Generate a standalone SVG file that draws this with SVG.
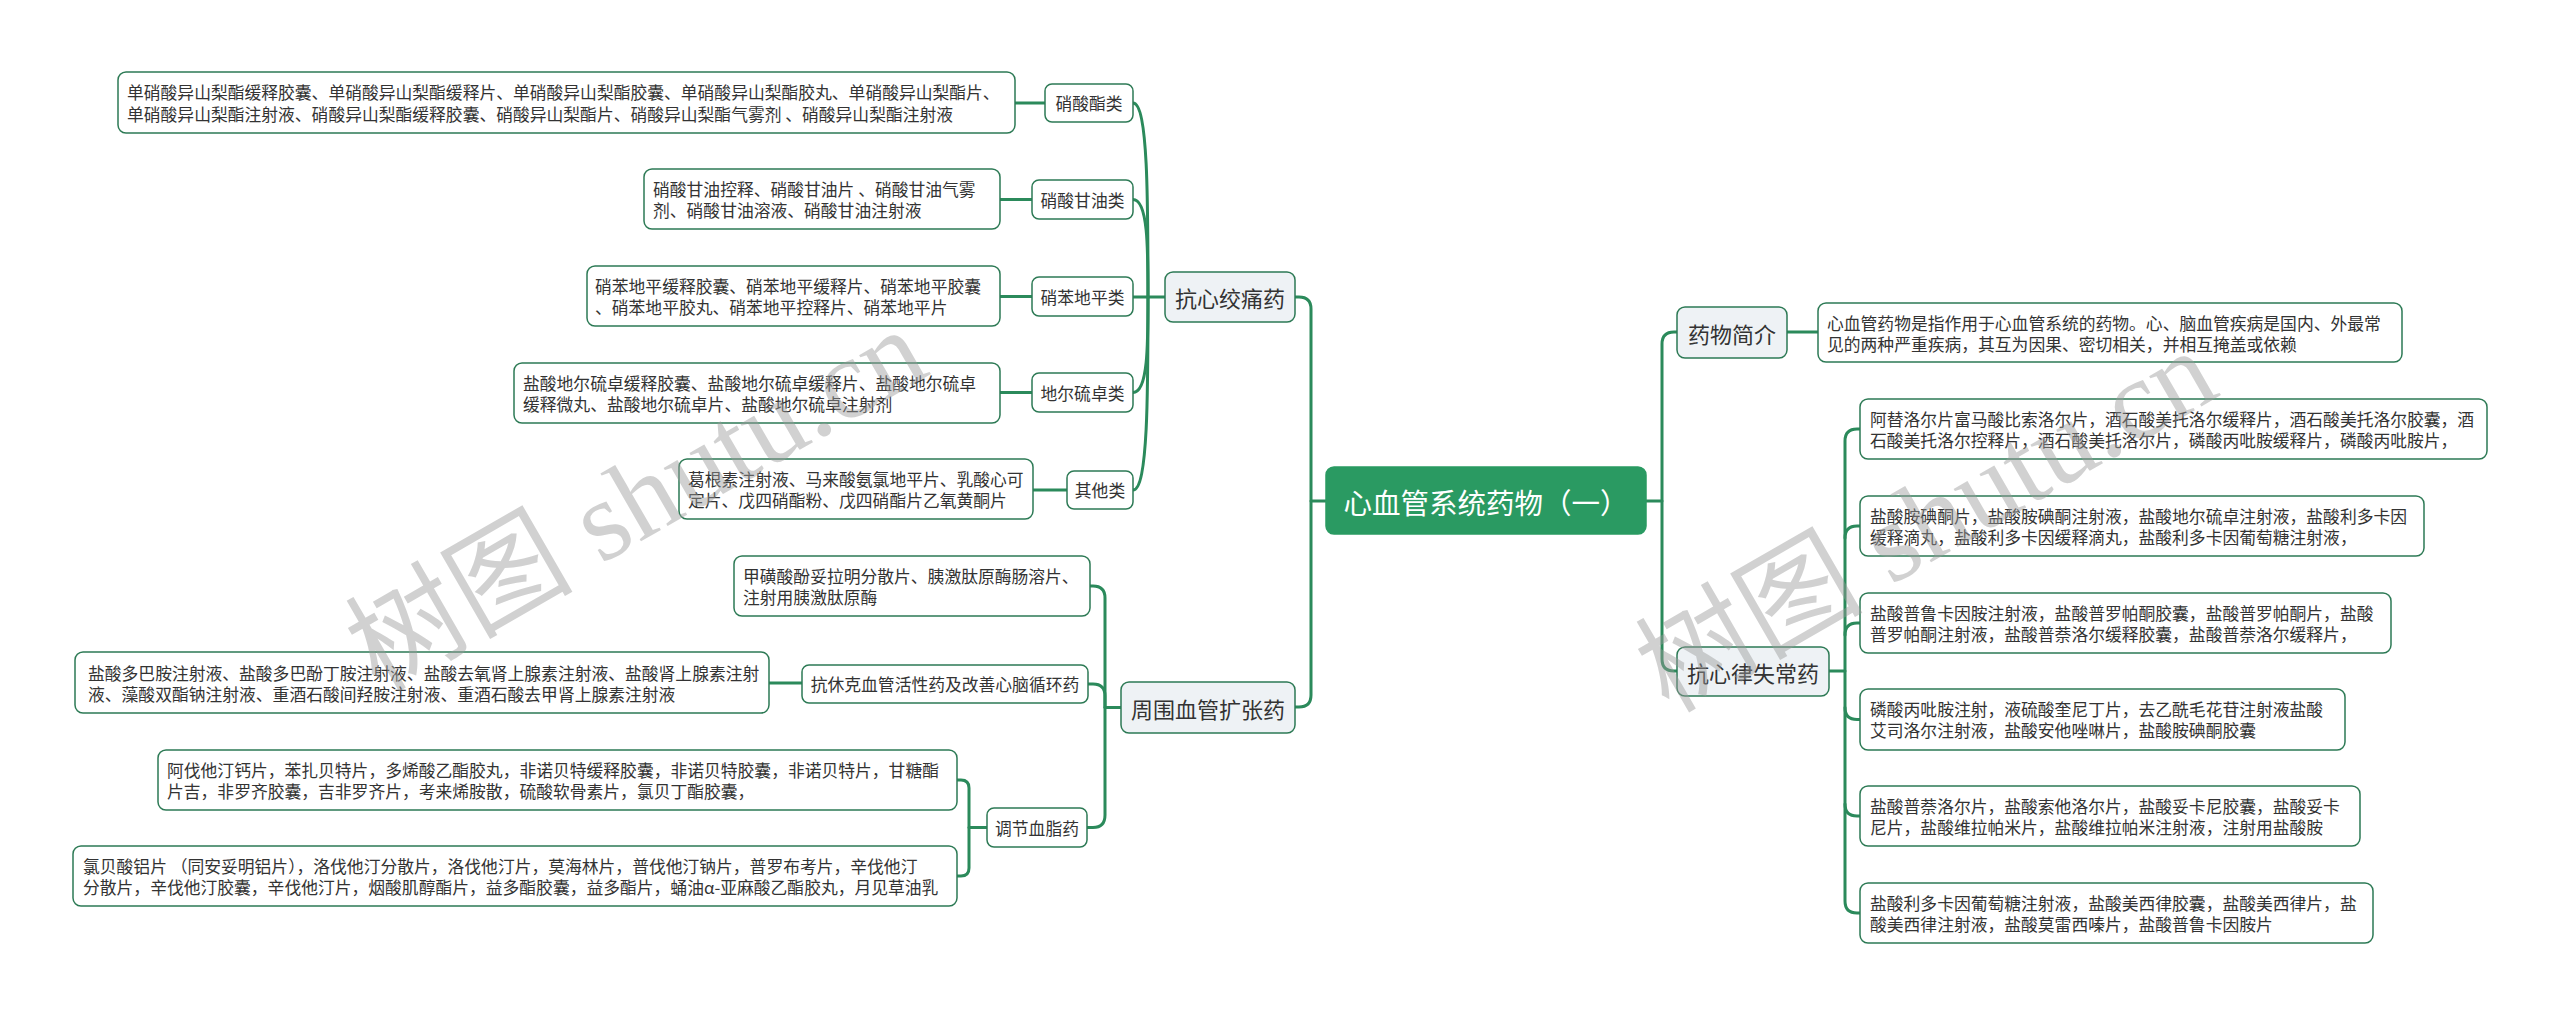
<svg xmlns="http://www.w3.org/2000/svg" width="2560" height="1016" viewBox="0 0 2560 1016">
<style>
.bg{fill:#ffffff}
.con{fill:none;stroke:#2b8a5b;stroke-width:3;stroke-linecap:round;stroke-linejoin:round}
.leaf rect{fill:#ffffff;stroke:#2d7a55;stroke-width:1.5}
.cat rect{fill:#ffffff;stroke:#2d7a55;stroke-width:1.5}
.l1 rect{fill:#eef2f5;stroke:#2d7a55;stroke-width:1.5}
.root rect{fill:#2a9a62;stroke:#2a9a62;stroke-width:1.5}
text{font-family:"Noto Sans CJK SC","Noto Sans CJK JP",sans-serif;dominant-baseline:central;fill:#333333}
.leaf text{font-size:16.8px}
.cat text{font-size:16.8px;text-anchor:middle}
.l1 text{font-size:22px;text-anchor:middle}
.root text{font-size:28.5px;text-anchor:middle;fill:#ffffff}
.wm{font-family:"Liberation Serif","Noto Sans CJK SC",serif;font-size:114px;fill:#9a9a9a;opacity:0.45;dominant-baseline:auto}
</style>
<rect class="bg" x="0" y="0" width="2560" height="1016"/>

<g id="connectors">
  <path class="con" d="M1326,501 H1311"/>
  <path class="con" d="M1295,297 H1299 Q1311,297 1311,309 V695 Q1311,707 1299,707 H1295"/>
  <path class="con" d="M1646,501 H1662"/>
  <path class="con" d="M1677,332 H1674 Q1662,332 1662,344 V659 Q1662,671 1674,671 H1677"/>
  <path class="con" d="M1133,103 C1148,103 1148,200 1148,297"/>
  <path class="con" d="M1133,199.5 C1148,199.5 1148,248 1148,297"/>
  <path class="con" d="M1133,297 H1165"/>
  <path class="con" d="M1133,392.5 C1148,392.5 1148,345 1148,297"/>
  <path class="con" d="M1133,490 C1148,490 1148,393 1148,297"/>
  <path class="con" d="M1015,103 H1045"/>
  <path class="con" d="M1000,199.5 H1032"/>
  <path class="con" d="M1000,296.5 H1032"/>
  <path class="con" d="M1000,392.5 H1032"/>
  <path class="con" d="M1033,490 H1067"/>
  <path class="con" d="M1090,586 H1093 Q1105,586 1105,598 V815 Q1105,827.5 1093,827.5 H1087"/>
  <path class="con" d="M1088,684 H1093 Q1105,684 1105,696 V707"/>
  <path class="con" d="M1105,707.5 H1121"/>
  <path class="con" d="M769,683 H802"/>
  <path class="con" d="M957,780 H961 Q969,780 969,788 V868 Q969,876 961,876 H957"/>
  <path class="con" d="M969,827.5 H987"/>
  <path class="con" d="M1786,332 H1818"/>
  <path class="con" d="M1829,671 H1845"/>
  <path class="con" d="M1860,429 H1857 Q1845,429 1845,441 V901 Q1845,913 1857,913 H1860"/>
  <path class="con" d="M1845,538 Q1845,526 1857,526 H1860"/>
  <path class="con" d="M1845,635 Q1845,623 1857,623 H1860"/>
  <path class="con" d="M1845,707.5 Q1845,719.5 1857,719.5 H1860"/>
  <path class="con" d="M1845,804 Q1845,816 1857,816 H1860"/>
</g>

<g id="root" class="root">
  <rect x="1326" y="467" width="320" height="67" rx="8"/>
  <text x="1486" y="501">心血管系统药物（一）</text>
</g>

<g id="n-angina" class="l1">
  <rect x="1165" y="272" width="130" height="50" rx="8"/>
  <text x="1230" y="297">抗心绞痛药</text>
</g>
<g id="n-vaso" class="l1">
  <rect x="1121" y="682" width="174" height="51" rx="8"/>
  <text x="1208" y="707.5">周围血管扩张药</text>
</g>
<g id="n-intro" class="l1">
  <rect x="1677" y="307" width="110" height="51" rx="8"/>
  <text x="1732" y="332.5">药物简介</text>
</g>
<g id="n-arrhythmia" class="l1">
  <rect x="1677" y="647" width="152" height="49" rx="8"/>
  <text x="1753" y="671.5">抗心律失常药</text>
</g>

<g id="c-nitrate" class="cat">
  <rect x="1045" y="84" width="88" height="38" rx="7"/>
  <text x="1089" y="103">硝酸酯类</text>
</g>
<g id="c-glycerin" class="cat">
  <rect x="1032" y="180" width="101" height="39" rx="7"/>
  <text x="1082.5" y="199.5">硝酸甘油类</text>
</g>
<g id="c-nifedipine" class="cat">
  <rect x="1032" y="277" width="101" height="39" rx="7"/>
  <text x="1082.5" y="296.5">硝苯地平类</text>
</g>
<g id="c-diltiazem" class="cat">
  <rect x="1032" y="373" width="101" height="39" rx="7"/>
  <text x="1082.5" y="392.5">地尔硫卓类</text>
</g>
<g id="c-other" class="cat">
  <rect x="1067" y="471" width="66" height="38" rx="7"/>
  <text x="1100" y="490">其他类</text>
</g>
<g id="c-shock" class="cat">
  <rect x="802" y="665" width="286" height="38" rx="7"/>
  <text x="945" y="684">抗休克血管活性药及改善心脑循环药</text>
</g>
<g id="c-lipid" class="cat">
  <rect x="987" y="808" width="100" height="39" rx="7"/>
  <text x="1037" y="827.5">调节血脂药</text>
</g>

<g id="leaf-nitrate" class="leaf">
  <rect x="118" y="72" width="897" height="61" rx="8"/>
  <text x="127"><tspan x="127" y="92">单硝酸异山梨酯缓释胶囊、单硝酸异山梨酯缓释片、单硝酸异山梨酯胶囊、单硝酸异山梨酯胶丸、单硝酸异山梨酯片、</tspan><tspan x="127" y="113.5">单硝酸异山梨酯注射液、硝酸异山梨酯缓释胶囊、硝酸异山梨酯片、硝酸异山梨酯气雾剂 、硝酸异山梨酯注射液</tspan></text>
</g>
<g id="leaf-glycerin" class="leaf">
  <rect x="644" y="169" width="356" height="60" rx="8"/>
  <text x="653"><tspan x="653" y="189">硝酸甘油控释、硝酸甘油片 、硝酸甘油气雾</tspan><tspan x="653" y="210">剂、硝酸甘油溶液、硝酸甘油注射液</tspan></text>
</g>
<g id="leaf-nifedipine" class="leaf">
  <rect x="587" y="266" width="413" height="60" rx="8"/>
  <text x="595"><tspan x="595" y="286">硝苯地平缓释胶囊、硝苯地平缓释片、硝苯地平胶囊</tspan><tspan x="595" y="307">、硝苯地平胶丸、硝苯地平控释片、硝苯地平片</tspan></text>
</g>
<g id="leaf-diltiazem" class="leaf">
  <rect x="514" y="363" width="486" height="60" rx="8"/>
  <text x="523"><tspan x="523" y="383">盐酸地尔硫卓缓释胶囊、盐酸地尔硫卓缓释片、盐酸地尔硫卓</tspan><tspan x="523" y="404">缓释微丸、盐酸地尔硫卓片、盐酸地尔硫卓注射剂</tspan></text>
</g>
<g id="leaf-other" class="leaf">
  <rect x="679" y="459" width="354" height="60" rx="8"/>
  <text x="688"><tspan x="688" y="479">葛根素注射液、马来酸氨氯地平片、乳酸心可</tspan><tspan x="688" y="500">定片、戊四硝酯粉、戊四硝酯片乙氧黄酮片</tspan></text>
</g>
<g id="leaf-phentolamine" class="leaf">
  <rect x="734" y="556" width="356" height="60" rx="8"/>
  <text x="743"><tspan x="743" y="576">甲磺酸酚妥拉明分散片、胰激肽原酶肠溶片、</tspan><tspan x="743" y="597">注射用胰激肽原酶</tspan></text>
</g>
<g id="leaf-dopamine" class="leaf">
  <rect x="75" y="652" width="694" height="61" rx="8"/>
  <text x="88"><tspan x="88" y="672.5">盐酸多巴胺注射液、盐酸多巴酚丁胺注射液、盐酸去氧肾上腺素注射液、盐酸肾上腺素注射</tspan><tspan x="88" y="693.5">液、藻酸双酯钠注射液、重酒石酸间羟胺注射液、重酒石酸去甲肾上腺素注射液</tspan></text>
</g>
<g id="leaf-atorvastatin" class="leaf">
  <rect x="158" y="750" width="799" height="60" rx="8"/>
  <text x="167"><tspan x="167" y="770">阿伐他汀钙片，苯扎贝特片，多烯酸乙酯胶丸，非诺贝特缓释胶囊，非诺贝特胶囊，非诺贝特片，甘糖酯</tspan><tspan x="167" y="791">片吉，非罗齐胶囊，吉非罗齐片，考来烯胺散，硫酸软骨素片，氯贝丁酯胶囊，</tspan></text>
</g>
<g id="leaf-clofibrate" class="leaf">
  <rect x="73" y="846" width="884" height="60" rx="8"/>
  <text x="83"><tspan x="83" y="866">氯贝酸铝片 （同安妥明铝片），洛伐他汀分散片，洛伐他汀片，莫海林片，普伐他汀钠片，普罗布考片，辛伐他汀</tspan><tspan x="83" y="887">分散片，辛伐他汀胶囊，辛伐他汀片，烟酸肌醇酯片，益多酯胶囊，益多酯片，蛹油α-亚麻酸乙酯胶丸，月见草油乳</tspan></text>
</g>
<g id="leaf-intro" class="leaf">
  <rect x="1818" y="303" width="584" height="59" rx="8"/>
  <text x="1827"><tspan x="1827" y="322.5">心血管药物是指作用于心血管系统的药物。心、脑血管疾病是国内、外最常</tspan><tspan x="1827" y="343.5">见的两种严重疾病，其互为因果、密切相关，并相互掩盖或依赖</tspan></text>
</g>
<g id="leaf-a1" class="leaf">
  <rect x="1860" y="399" width="627" height="60" rx="8"/>
  <text x="1870"><tspan x="1870" y="419">阿替洛尔片富马酸比索洛尔片，酒石酸美托洛尔缓释片，酒石酸美托洛尔胶囊，酒</tspan><tspan x="1870" y="440">石酸美托洛尔控释片，酒石酸美托洛尔片，磷酸丙吡胺缓释片，磷酸丙吡胺片，</tspan></text>
</g>
<g id="leaf-a2" class="leaf">
  <rect x="1860" y="496" width="564" height="60" rx="8"/>
  <text x="1870"><tspan x="1870" y="516">盐酸胺碘酮片，盐酸胺碘酮注射液，盐酸地尔硫卓注射液，盐酸利多卡因</tspan><tspan x="1870" y="537">缓释滴丸，盐酸利多卡因缓释滴丸，盐酸利多卡因葡萄糖注射液，</tspan></text>
</g>
<g id="leaf-a3" class="leaf">
  <rect x="1860" y="593" width="531" height="60" rx="8"/>
  <text x="1870"><tspan x="1870" y="613">盐酸普鲁卡因胺注射液，盐酸普罗帕酮胶囊，盐酸普罗帕酮片，盐酸</tspan><tspan x="1870" y="634">普罗帕酮注射液，盐酸普萘洛尔缓释胶囊，盐酸普萘洛尔缓释片，</tspan></text>
</g>
<g id="leaf-a4" class="leaf">
  <rect x="1860" y="689" width="485" height="61" rx="8"/>
  <text x="1870"><tspan x="1870" y="709">磷酸丙吡胺注射，液硫酸奎尼丁片，去乙酰毛花苷注射液盐酸</tspan><tspan x="1870" y="730">艾司洛尔注射液，盐酸安他唑啉片，盐酸胺碘酮胶囊</tspan></text>
</g>
<g id="leaf-a5" class="leaf">
  <rect x="1860" y="786" width="500" height="60" rx="8"/>
  <text x="1870"><tspan x="1870" y="806">盐酸普萘洛尔片，盐酸索他洛尔片，盐酸妥卡尼胶囊，盐酸妥卡</tspan><tspan x="1870" y="827">尼片，盐酸维拉帕米片，盐酸维拉帕米注射液，注射用盐酸胺</tspan></text>
</g>
<g id="leaf-a6" class="leaf">
  <rect x="1860" y="883" width="513" height="60" rx="8"/>
  <text x="1870"><tspan x="1870" y="903">盐酸利多卡因葡萄糖注射液，盐酸美西律胶囊，盐酸美西律片，盐</tspan><tspan x="1870" y="924">酸美西律注射液，盐酸莫雷西嗪片，盐酸普鲁卡因胺片</tspan></text>
</g>

<g id="watermarks">
  <text class="wm" x="637" y="538" text-anchor="middle" transform="rotate(-30 637 501)">树图 shutu.cn</text>
  <text class="wm" x="1927" y="559" text-anchor="middle" transform="rotate(-30 1927 522)">树图 shutu.cn</text>
</g>
</svg>
